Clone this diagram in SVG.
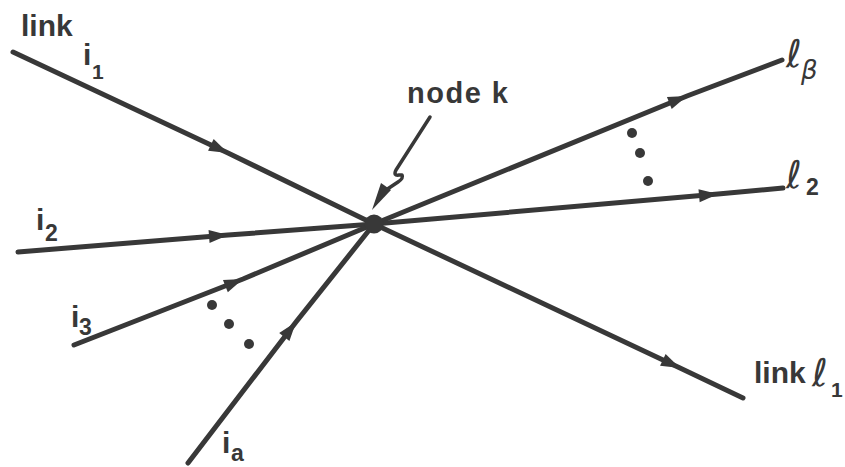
<svg xmlns="http://www.w3.org/2000/svg" width="845" height="467" viewBox="0 0 845 467">
<style>
.ln{stroke:#383838;stroke-width:5;stroke-linecap:round;fill:none;marker-mid:url(#ah)}
.t{font-family:"Liberation Sans",Arial,sans-serif;font-weight:bold;fill:#383838}
.s{font-family:"DejaVu Sans",sans-serif;font-style:italic;fill:#383838}
.dot{fill:#383838}
</style>
<defs>
<marker id="ah" markerUnits="userSpaceOnUse" markerWidth="24" markerHeight="16" refX="20" refY="7" orient="auto" viewBox="0 0 24 16" overflow="visible">
<path d="M20,7 L1,0.5 L1,13.5 Z" fill="#383838"/>
</marker>
</defs>
<rect width="845" height="467" fill="#fff"/>
<g id="connectors">
<path class="ln" d="M13,52 L228,153 L374,224"/>
<path class="ln" d="M18,252 L228,235 L374,224"/>
<path class="ln" d="M74,345 L243,279 L374,224"/>
<path class="ln" d="M188,463 L296,322 L374,224"/>
<path class="ln" d="M374,224 L687,96 L782,60"/>
<path class="ln" d="M374,224 L718,194 L783,188"/>
<path class="ln" d="M374,224 L680,368 L743,398"/>
</g>
<g id="node-k">
<circle cx="374" cy="224" r="9.5" fill="#383838"/>
<text class="t" x="407" y="103" font-size="29" letter-spacing="1.5">node k</text>
<path d="M430,117 L396,170 Q393,176 399,175 L402,175 Q404,178 398,182 L386,190" stroke="#383838" stroke-width="3.5" fill="none" stroke-linecap="round" stroke-linejoin="round"/>
<path d="M372,210 L381,183 L391,190 Z" fill="#383838"/>
</g>
<g id="link-i1">
<text class="t" x="21" y="36" font-size="30">link</text>
<text class="t" x="83" y="65" font-size="30">i</text>
<text class="t" x="92" y="79" font-size="21">1</text>
</g>
<g id="link-i2">
<text class="t" x="36" y="230" font-size="30">i</text>
<text class="t" x="45" y="241" font-size="23">2</text>
</g>
<g id="link-i3">
<text class="t" x="71" y="327" font-size="30">i</text>
<text class="t" x="79" y="335" font-size="23">3</text>
</g>
<g id="link-ia">
<text class="t" x="222" y="453" font-size="30">i</text>
<text class="t" x="231" y="461" font-size="23">a</text>
</g>
<g id="dots-in">
<circle class="dot" cx="212" cy="305" r="5"/>
<circle class="dot" cx="229" cy="324" r="5"/>
<circle class="dot" cx="249" cy="344" r="5"/>
</g>
<g id="dots-out">
<circle class="dot" cx="632" cy="133" r="5"/>
<circle class="dot" cx="640" cy="153" r="5"/>
<circle class="dot" cx="648" cy="181" r="5"/>
</g>
<g id="link-lbeta">
<text class="s" x="786" y="67" font-size="38">ℓ</text>
<text class="s" x="801" y="79" font-size="26">β</text>
</g>
<g id="link-l2">
<text class="s" x="786" y="188" font-size="38">ℓ</text>
<text class="t" x="806" y="195" font-size="23">2</text>
</g>
<g id="link-l1">
<text class="t" x="754" y="383" font-size="30">link</text>
<text class="s" x="812" y="386" font-size="38">ℓ</text>
<text class="t" x="831" y="397" font-size="21">1</text>
</g>
</svg>
